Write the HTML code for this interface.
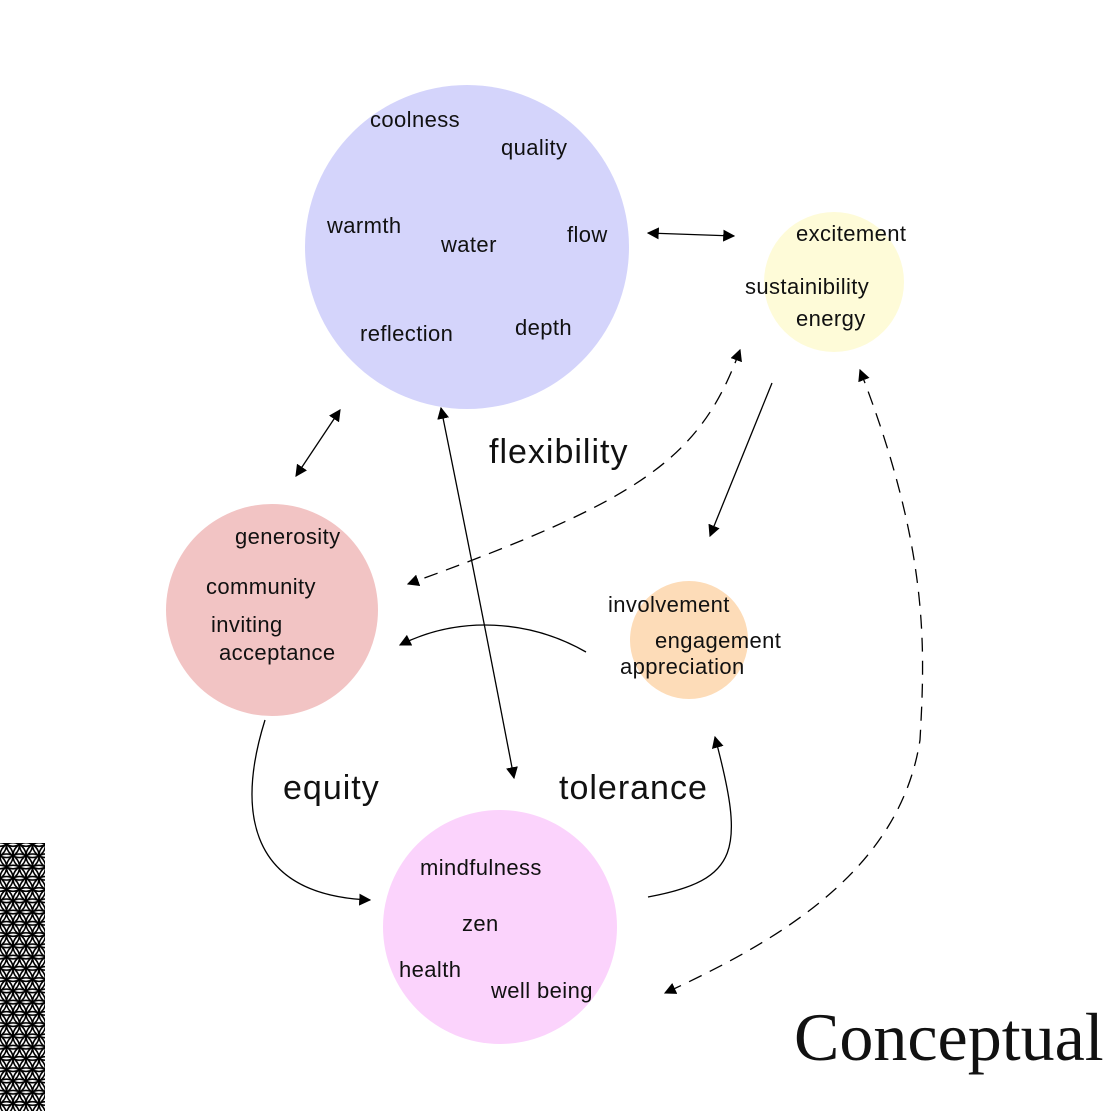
<!DOCTYPE html>
<html><head><meta charset="utf-8"><style>
body{margin:0;background:#fff}
svg text{font-family:"Liberation Sans",sans-serif;fill:#111}
</style></head><body>
<svg width="1111" height="1111" viewBox="0 0 1111 1111" xmlns="http://www.w3.org/2000/svg">
<defs>
<marker id="a" viewBox="0 0 10 10" refX="9" refY="5" markerWidth="12" markerHeight="12" markerUnits="userSpaceOnUse" orient="auto-start-reverse"><path d="M0,0 L10,5 L0,10 z" fill="#000"/></marker>
<pattern id="fl" width="13" height="22.52" patternUnits="userSpaceOnUse">
<g fill="none" stroke="#000" stroke-width="1.6">
<circle cx="0" cy="0" r="13"/><circle cx="13" cy="0" r="13"/>
<circle cx="-6.5" cy="11.26" r="13"/><circle cx="6.5" cy="11.26" r="13"/><circle cx="19.5" cy="11.26" r="13"/>
<circle cx="0" cy="22.52" r="13"/><circle cx="13" cy="22.52" r="13"/>
<circle cx="-6.5" cy="-11.26" r="13"/><circle cx="6.5" cy="-11.26" r="13"/><circle cx="19.5" cy="-11.26" r="13"/>
<circle cx="-6.5" cy="33.78" r="13"/><circle cx="6.5" cy="33.78" r="13"/><circle cx="19.5" cy="33.78" r="13"/>
</g></pattern>
</defs>
<rect x="0" y="843" width="45" height="268" fill="url(#fl)"/>

<circle cx="467" cy="247" r="162" fill="#d4d4fb"/>
<circle cx="834" cy="282" r="70" fill="#fefbd8"/>
<circle cx="272" cy="610" r="106" fill="#f2c4c4"/>
<circle cx="689" cy="640" r="59" fill="#fddcb8"/>
<circle cx="500" cy="927" r="117" fill="#fbd3fc"/>

<g font-size="22" letter-spacing="0.4">
<text x="370" y="127">coolness</text>
<text x="501" y="155">quality</text>
<text x="327" y="233">warmth</text>
<text x="441" y="252">water</text>
<text x="567" y="242">flow</text>
<text x="360" y="341">reflection</text>
<text x="515" y="335">depth</text>
<text x="796" y="241">excitement</text>
<text x="745" y="294">sustainibility</text>
<text x="796" y="326">energy</text>
<text x="235" y="544">generosity</text>
<text x="206" y="594">community</text>
<text x="211" y="632">inviting</text>
<text x="219" y="660">acceptance</text>
<text x="608" y="612">involvement</text>
<text x="655" y="648">engagement</text>
<text x="620" y="674">appreciation</text>
<text x="420" y="875">mindfulness</text>
<text x="462" y="931">zen</text>
<text x="399" y="977">health</text>
<text x="491" y="998">well being</text>
</g>
<g font-size="34" letter-spacing="1">
<text x="489" y="463">flexibility</text>
<text x="283" y="799">equity</text>
<text x="559" y="799">tolerance</text>
</g>
<text x="794" y="1060" font-size="68" style="font-family:'Liberation Serif',serif">Conceptual</text>

<g fill="none" stroke="#000" stroke-width="1.3">
<path d="M648,233 L734,236" marker-start="url(#a)" marker-end="url(#a)"/>
<path d="M340,410 L296,476" marker-start="url(#a)" marker-end="url(#a)"/>
<path d="M441,408 Q480,600 514,778" marker-start="url(#a)" marker-end="url(#a)"/>
<path d="M772,383 L710,536" marker-end="url(#a)"/>
<path d="M740,350 C700,460 640,500 408,584" stroke-dasharray="14,9" marker-start="url(#a)" marker-end="url(#a)"/>
<path d="M586,652 C530,620 460,615 400,645" marker-end="url(#a)"/>
<path d="M265,720 C240,800 240,895 370,900" marker-end="url(#a)"/>
<path d="M648,897 C740,880 745,850 715,737" marker-end="url(#a)"/>
<path d="M860,370 C930,550 925,650 920,740 C900,870 780,940 665,993" stroke-dasharray="14,9" marker-start="url(#a)" marker-end="url(#a)"/>
</g>
</svg>
</body></html>
